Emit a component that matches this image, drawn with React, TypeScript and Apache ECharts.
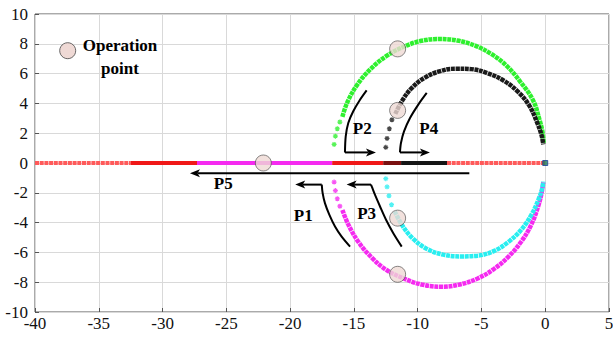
import React, { useEffect, useRef } from "react";
import * as echarts from "echarts";

// Axis extents and tick step
const xMin = -40;
const xMax = 5;
const xStep = 5;
const yMin = -10;
const yMax = 10;
const yStep = 2;

// Root-locus branches: dense arc part and sparse starting stars
const greenSparse: [number, number][] = [
  [-16.55, 1.25], [-16.45, 1.8], [-16.3, 2.3], [-16.1, 2.75],
];
const greenArc: [number, number][] = [
  [-15.9, 3.1], [-15.5, 4.1], [-14.7, 5.3], [-13.7, 6.3], [-12.5, 7.15],
  [-11.1, 7.8], [-9.7, 8.2], [-8.3, 8.32], [-6.9, 8.22], [-5.5, 7.88],
  [-4.2, 7.3], [-3.0, 6.5], [-1.95, 5.45], [-0.95, 4.2], [-0.45, 2.9],
  [-0.22, 2.1], [-0.12, 1.35],
];
const blackSparse: [number, number][] = [
  [-12.5, 1.05], [-12.4, 1.65], [-12.22, 2.3], [-12.02, 2.9],
];
const blackArc: [number, number][] = [
  [-11.75, 3.3], [-11.2, 4.2], [-10.5, 5.0], [-9.5, 5.7], [-8.3, 6.15],
  [-7.0, 6.33], [-5.8, 6.3], [-4.5, 6.02], [-3.2, 5.5], [-2.1, 4.75],
  [-1.25, 3.85], [-0.65, 2.75], [-0.3, 1.9], [-0.15, 1.25],
];
const magentaSparse: [number, number][] = [
  [-16.55, -1.28], [-16.45, -1.85], [-16.3, -2.4], [-16.1, -2.9],
];
const magentaArc: [number, number][] = [
  [-15.9, -3.15], [-15.4, -4.2], [-14.6, -5.35], [-13.6, -6.35], [-12.5, -7.15],
  [-11.1, -7.75], [-9.7, -8.15], [-8.1, -8.3], [-6.7, -8.15], [-5.3, -7.75],
  [-4.0, -7.1], [-2.9, -6.3], [-1.9, -5.3], [-1.1, -4.15], [-0.55, -2.9],
  [-0.28, -2.0], [-0.15, -1.3],
];
const cyanSparse: [number, number][] = [
  [-12.5, -1.05], [-12.4, -1.6], [-12.25, -2.2], [-12.05, -2.8],
];
const cyanArc: [number, number][] = [
  [-11.8, -3.25], [-11.2, -4.2], [-10.4, -5.05], [-9.3, -5.75], [-8.0, -6.15],
  [-6.6, -6.27], [-5.3, -6.22], [-4.0, -5.9], [-2.9, -5.3], [-1.9, -4.5],
  [-1.1, -3.5], [-0.55, -2.5], [-0.25, -1.75], [-0.15, -1.25],
];

// Real-axis branch segments (start, end) on y = 0
const realSegStart = [-40, -32.5, -27.3, -16.7, -12.7, -11.3, -7.7];
const realSegEnd = [-32.5, -27.3, -16.7, -12.7, -11.3, -7.7, 0];
const realSegKind = ["red", "redDense", "magenta", "redDense", "dark", "black", "red"];

// Operating points
const opPoints: [number, number][] = [
  [-11.57, 7.66], [-11.57, 3.53], [-11.57, -3.7], [-11.57, -7.47], [-22.1, 0],
];
const originPoint: [number, number][] = [[0, 0]];

// Direction arrows: curved shaft ending at a corner, then straight to the tip
const arrowNames = ["P1", "P2", "P3", "P4", "P5"];
const arrowShafts: [number, number][][] = [
  [[-15.3, -5.61], [-15.96, -4.94], [-16.48, -4.26], [-16.92, -3.48], [-17.27, -2.69], [-17.45, -2.02], [-17.52, -1.45]],
  [[-14.0, 4.88], [-14.52, 4.25], [-15.05, 3.47], [-15.44, 2.68], [-15.64, 1.79], [-15.7, 0.71]],
  [[-11.25, -5.61], [-11.91, -4.71], [-12.48, -3.81], [-12.95, -2.92], [-13.35, -2.13], [-13.58, -1.62], [-13.66, -1.45]],
  [[-9.29, 4.7], [-9.95, 3.92], [-10.6, 3.02], [-11.07, 2.12], [-11.31, 1.34], [-11.39, 0.71]],
  [[-5.95, -0.68]],
];
const arrowTips: [number, number][] = [
  [-19.6, -1.45], [-13.27, 0.71], [-15.57, -1.45], [-9.04, 0.71], [-27.85, -0.68],
];
const arrowLabelAt: [number, number][] = [
  [-18.97, -3.55], [-14.35, 2.3], [-14.0, -3.37], [-9.13, 2.3], [-25.24, -1.39],
];

const FONT = "'Liberation Serif', 'Times New Roman', serif";

const segColors: Record<string, string> = {
  red: "#ff5a5a",
  redDense: "#f01818",
  magenta: "#f52af0",
  dark: "#7a1010",
  black: "#151515",
};

const STAR = "path://M5,0L5,10M0,5L10,5M1.5,1.5L8.5,8.5M8.5,1.5L1.5,8.5";

function arcSeries(name: string, data: [number, number][], color: string) {
  return {
    name,
    type: "line",
    data,
    smooth: 0.4,
    showSymbol: false,
    symbol: "none",
    z: 4,
    lineStyle: { color, width: 4.5, type: [4, 0.7] },
    silent: true,
  };
}

function sparseSeries(name: string, data: [number, number][], color: string) {
  return {
    name,
    type: "scatter",
    data,
    symbol: STAR,
    symbolSize: 5,
    z: 4,
    itemStyle: { color: "transparent", borderColor: color, borderWidth: 1.2 },
    silent: true,
  };
}

export default function App() {
  const ref = useRef<HTMLDivElement>(null);

  useEffect(() => {
    document.body.style.margin = "0";
    if (!ref.current) return;
    const chart = echarts.init(ref.current, undefined, { renderer: "svg" });

    const realSeries = realSegStart.map((s, i) => ({
      name: "real-" + i,
      type: "line",
      data: [[s, 0], [realSegEnd[i], 0]],
      showSymbol: false,
      symbol: "none",
      z: 3,
      lineStyle: {
        color: segColors[realSegKind[i]],
        width: 4,
        type: realSegKind[i] === "red" ? [4, 0.7] : "solid",
      },
      silent: true,
    }));

    const arrowSeries = {
      name: "arrows",
      type: "custom",
      coordinateSystem: "cartesian2d",
      data: arrowTips,
      clip: false,
      z: 6,
      silent: true,
      renderItem: (params: any, api: any) => {
        const i = params.dataIndex;
        const shaft = arrowShafts[i].map((p) => api.coord(p));
        const tip = api.coord(arrowTips[i]);
        const corner = shaft[shaft.length - 1];
        const dx = tip[0] - corner[0];
        const dy = tip[1] - corner[1];
        const len = Math.sqrt(dx * dx + dy * dy) || 1;
        const ux = dx / len;
        const uy = dy / len;
        const px = -uy;
        const py = ux;
        const headLen = 10;
        const headW = 4;
        const base = [tip[0] - ux * headLen, tip[1] - uy * headLen];
        const notch = [tip[0] - ux * headLen * 0.75, tip[1] - uy * headLen * 0.75];
        const children: any[] = [];
        if (shaft.length > 1) {
          children.push({
            type: "polyline",
            shape: { points: shaft, smooth: 0.3 },
            style: { stroke: "#000", lineWidth: 2, fill: null },
          });
        }
        children.push({
          type: "line",
          shape: { x1: corner[0], y1: corner[1], x2: notch[0], y2: notch[1] },
          style: { stroke: "#000", lineWidth: 2 },
        });
        children.push({
          type: "polygon",
          shape: {
            points: [
              tip,
              [base[0] + px * headW, base[1] + py * headW],
              notch,
              [base[0] - px * headW, base[1] - py * headW],
            ],
          },
          style: { fill: "#000" },
        });
        const lp = api.coord(arrowLabelAt[i]);
        children.push({
          type: "text",
          x: lp[0],
          y: lp[1],
          style: {
            text: arrowNames[i],
            fill: "#000",
            fontFamily: FONT,
            fontSize: 17,
            fontWeight: "bold",
            align: "center",
            verticalAlign: "middle",
          },
        });
        return { type: "group", children };
      },
    };

    const legendText = (text: string, y: number) => ({
      type: "text",
      x: 120,
      y,
      style: {
        text,
        fill: "#000",
        fontFamily: FONT,
        fontSize: 17,
        fontWeight: "bold",
        align: "center",
        verticalAlign: "middle",
      },
      z: 10,
    });

    chart.setOption({
      animation: false,
      backgroundColor: "#fff",
      textStyle: { fontFamily: FONT },
      grid: {
        left: 35,
        right: 4,
        top: 14,
        bottom: 27,
        show: true,
        borderColor: "#555",
        borderWidth: 1,
        containLabel: false,
        outerBoundsMode: "none",
      },
      xAxis: {
        type: "value",
        min: xMin,
        max: xMax,
        interval: xStep,
        axisLine: { show: false, onZero: false },
        axisTick: { show: true, inside: true, length: 4, lineStyle: { color: "#555" } },
        axisLabel: { color: "#111", fontFamily: FONT, fontSize: 17, margin: 3 },
        splitLine: { show: true, lineStyle: { color: "#d9d9d9", width: 1 } },
      },
      yAxis: {
        type: "value",
        min: yMin,
        max: yMax,
        interval: yStep,
        axisLine: { show: false, onZero: false },
        axisTick: { show: true, inside: true, length: 4, lineStyle: { color: "#555" } },
        axisLabel: { color: "#111", fontFamily: FONT, fontSize: 17, margin: 7 },
        splitLine: { show: true, lineStyle: { color: "#d9d9d9", width: 1 } },
      },
      series: [
        ...realSeries,
        arcSeries("green", greenArc, "#2ef02e"),
        sparseSeries("green-s", greenSparse, "#2ef02e"),
        arcSeries("black", blackArc, "#1a1a1a"),
        sparseSeries("black-s", blackSparse, "#1a1a1a"),
        arcSeries("magenta", magentaArc, "#f52af0"),
        sparseSeries("magenta-s", magentaSparse, "#f52af0"),
        arcSeries("cyan", cyanArc, "#28eef0"),
        sparseSeries("cyan-s", cyanSparse, "#28eef0"),
        {
          name: "origin",
          type: "scatter",
          data: originPoint,
          symbol: "rect",
          symbolSize: 5,
          z: 5,
          itemStyle: { color: "#1e7a5a", borderColor: "#1a3d9a", borderWidth: 1 },
          silent: true,
        },
        arrowSeries,
        {
          name: "operation",
          type: "scatter",
          data: opPoints,
          symbol: "circle",
          symbolSize: 16,
          z: 7,
          itemStyle: { color: "#efd9d5", borderColor: "#444", borderWidth: 0.8 },
          silent: true,
        },
      ],
      graphic: [
        {
          type: "circle",
          shape: { cx: 67.7, cy: 50.7, r: 8 },
          style: { fill: "#efd9d5", stroke: "#444", lineWidth: 0.8 },
          z: 10,
        },
        legendText("Operation", 45),
        legendText("point", 68),
      ],
    });

    return () => chart.dispose();
  }, []);

  return <div ref={ref} style={{ width: 613, height: 339 }} />;
}
